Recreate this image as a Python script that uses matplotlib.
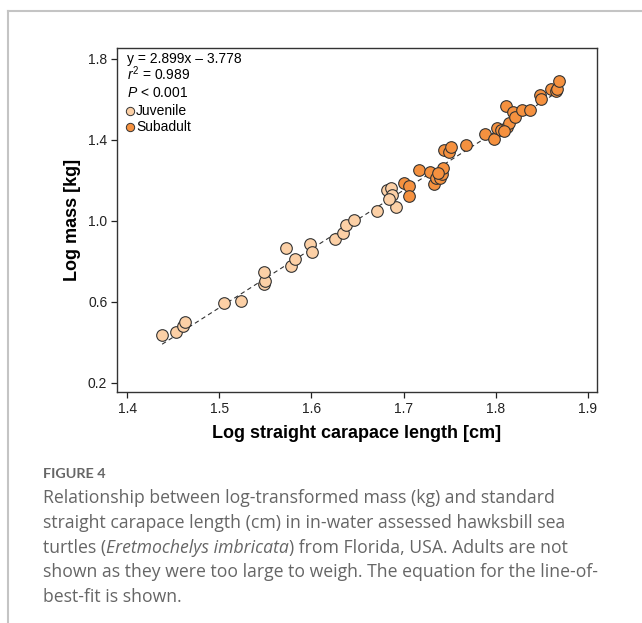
import numpy as np
import matplotlib.pyplot as plt
from matplotlib.lines import Line2D

plt.rcParams['font.family'] = ['Liberation Sans', 'DejaVu Sans']
plt.rcParams['mathtext.fontset'] = 'custom'
plt.rcParams['mathtext.rm'] = 'Liberation Sans'
plt.rcParams['mathtext.it'] = 'Liberation Sans:italic'

# values (log SCL [cm], log mass [kg])
juv_x = [1.438, 1.453, 1.461, 1.463, 1.505, 1.524, 1.549, 1.550, 1.549, 1.572,
         1.578, 1.582, 1.599, 1.601, 1.626, 1.634, 1.6375, 1.646, 1.671, 1.692,
         1.682, 1.686, 1.688, 1.684]
juv_y = [0.437, 0.452, 0.481, 0.498, 0.594, 0.605, 0.687, 0.705, 0.747, 0.863,
         0.776, 0.812, 0.885, 0.847, 0.910, 0.937, 0.979, 1.005, 1.049, 1.068,
         1.153, 1.163, 1.128, 1.109]
sub_x = [1.7008, 1.706, 1.706, 1.7167, 1.7286, 1.733, 1.735, 1.740, 1.742, 1.743,
         1.7376, 1.744, 1.7496, 1.752, 1.7677, 1.788, 1.798, 1.802, 1.806, 1.8125,
         1.814, 1.811, 1.819, 1.821, 1.829, 1.837, 1.848, 1.849, 1.860, 1.865,
         1.867, 1.8685, 1.809]
sub_y = [1.186, 1.173, 1.123, 1.252, 1.240, 1.181, 1.211, 1.211, 1.231, 1.260,
         1.236, 1.351, 1.339, 1.362, 1.375, 1.430, 1.405, 1.458, 1.449, 1.463,
         1.482, 1.564, 1.537, 1.510, 1.548, 1.545, 1.622, 1.601, 1.650, 1.642,
         1.652, 1.691, 1.444]
slope, intercept = 2.899, -3.778
xticks = [1.4, 1.5, 1.6, 1.7, 1.8, 1.9]
yticks = [0.2, 0.6, 1.0, 1.4, 1.8]
stats_lines = ['y = 2.899x \u2013 3.778', r'$\it{r}^2$ = 0.989', r'$\it{P}$ < 0.001']
groups = ['Juvenile', 'Subadult']

juv_col = '#FCD0A6'
sub_col = '#F5913F'

W, H = 642, 623
fig = plt.figure(figsize=(W/100, H/100), dpi=100)

# page frame lines (top and left)
fig.add_artist(Line2D([8/W, 1], [1-10.5/H, 1-10.5/H], color='#c4c4c4', lw=1.5))
fig.add_artist(Line2D([8/W, 8/W], [0, 1-10.5/H], color='#c4c4c4', lw=1.5))

ax = fig.add_axes([117/W, 1-392/H, 480/W, 344/H])

all_x = np.array(juv_x + sub_x)
lx = np.array([all_x.min(), all_x.max()])
ax.plot(lx, slope*lx + intercept, ls=(0, (4, 3)), color='#333333', lw=0.8, zorder=1)

ax.scatter(juv_x, juv_y, s=70, c=juv_col, edgecolors='#333333', linewidths=0.8, zorder=2)
ax.scatter(sub_x, sub_y, s=70, c=sub_col, edgecolors='#333333', linewidths=0.8, zorder=3)

ax.set_xlim(1.389, 1.910)
ax.set_ylim(0.155, 1.852)
ax.set_xticks(xticks)
ax.set_yticks(yticks)
ax.set_xticklabels(['%.1f' % v for v in xticks])
ax.set_yticklabels(['%.1f' % v for v in yticks])
ax.tick_params(direction='out', length=4, width=0.9, labelsize=10, colors='#222222', pad=3)
for sp in ax.spines.values():
    sp.set_linewidth(1.0)
    sp.set_color('#333333')

ax.set_xlabel('Log straight carapace length [cm]', fontsize=13, fontweight='bold', labelpad=7)
ax.set_ylabel('Log mass [kg]', fontsize=13, fontweight='bold', labelpad=5)

# stats text, baselines at fixed pixel rows
for s, base in zip(stats_lines, [63, 80, 97]):
    ax.text(10/480, (392-base)/344, s, transform=ax.transAxes, fontsize=10, va='baseline')

# hand-made legend
for col, name, yc in zip([juv_col, sub_col], groups, [111, 127]):
    yy = (392-yc)/344
    ax.plot([13/480], [yy], 'o', ms=6, mfc=col, mec='#333333', mew=0.7,
            transform=ax.transAxes, clip_on=False)
    ax.text(19/480, yy, name, transform=ax.transAxes, fontsize=10, va='center')

# caption below the chart
cap_font = ['Open Sans', 'DejaVu Sans']
cap_col = '#666666'
fig_t = fig.text(43/W, 1-474/H, 'FIGURE 4', fontsize=10, color=cap_col, family=['Lato', 'DejaVu Sans'],
                 fontweight='bold', va='center')
caption = [
    ['Relationship between log-transformed mass (kg) and standard'],
    ['straight carapace length (cm) in in-water assessed hawksbill sea'],
    ['turtles (', 'Eretmochelys imbricata', ') from Florida, USA. Adults are not'],
    ['shown as they were too large to weigh. The equation for the line-of-'],
    ['best-fit is shown.'],
]
ys = [498, 523, 548, 572, 597]

r = fig.canvas.get_renderer()
probe = fig.text(0, 0, caption[0][0], fontsize=12, family=cap_font)
cap_size = 12 * 510 / probe.get_window_extent(r).width
probe.remove()
wf = fig_t.get_window_extent(r).width
fig_t.set_fontsize(10 * 63 / wf)

for parts, yp in zip(caption, ys):
    xpix = 43
    for i, part in enumerate(parts):
        style = 'italic' if (len(parts) == 3 and i == 1) else 'normal'
        t = fig.text(xpix/W, 1-yp/H, part, fontsize=cap_size, color=cap_col, family=cap_font,
                     style=style, va='center')
        xpix += t.get_window_extent(r).width

fig.savefig('out.png', dpi=100)
